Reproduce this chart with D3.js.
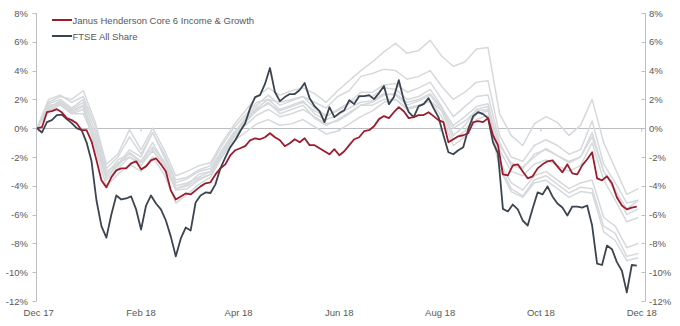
<!DOCTYPE html>
<html>
<head>
<meta charset="utf-8">
<script src="https://cdn.jsdelivr.net/npm/d3@7"></script>
<style>
  html, body { margin: 0; padding: 0; background: #fff; }
  svg { display: block; font-family: "Liberation Sans", Arial, sans-serif; }
</style>
</head>
<body>
<svg id="chart" width="680" height="326"></svg>
<script>
// Cumulative returns (%), 30 Nov 2017 - 30 Nov 2018
const startDate = new Date(2017, 10, 30);

// Main series sampled every 3 days
const janus = [
  0, 0.07, 1.11, 1.18, 1.32, 1.11, 0.70, 0.56, 0.35, -0.14,
  -0.14, -0.91, -2.23, -3.62, -4.11, -3.41, -2.93, -2.79, -2.79, -2.44,
  -2.30, -2.86, -2.65, -2.23, -2.09, -2.51, -3.00, -4.32, -4.95, -4.74,
  -4.53, -4.60, -4.32, -4.04, -3.83, -3.76, -3.21, -2.79, -2.51, -1.88,
  -1.53, -1.39, -1.25, -0.84, -0.70, -0.77, -0.63, -0.35, -0.63, -0.84,
  -1.25, -1.05, -0.77, -0.98, -0.70, -1.18, -1.18, -1.39, -1.60, -1.81,
  -1.46, -1.88, -1.60, -1.18, -0.77, -0.63, -0.21, -0.14, 0.14, 0.63,
  0.84, 0.70, 1.11, 1.46, 1.18, 0.70, 0.77, 0.91, 0.91, 1.11,
  0.84, 0.56, 0.42, -0.98, -0.77, -0.56, -0.49, -0.35, 0.42, 0.49,
  0.42, 0.70, -0.49, -1.18, -3.21, -3.28, -2.58, -2.51, -3.00, -3.48,
  -3.34, -2.79, -2.51, -2.30, -2.23, -2.65, -3.07, -2.51, -3.14, -3.21,
  -2.58, -2.16, -1.67, -3.48, -3.62, -3.34, -3.83, -4.81, -5.37, -5.64,
  -5.51, -5.44
];
const ftse = [
  0, -0.3, 0.42, 0.56, 0.91, 0.95, 0.63, 0.35, 0.0, -0.14,
  -0.98, -2.30, -5.02, -6.8, -7.6, -5.99, -4.67, -4.95, -4.88, -4.74,
  -5.64, -7.04, -5.37, -4.67, -5.23, -5.64, -6.41, -7.53, -8.9, -7.67,
  -6.9, -7.11, -5.16, -4.67, -4.46, -4.5, -3.9, -2.79, -2.02, -1.32,
  -0.84, -0.21, 0.35, 1.39, 2.16, 2.3, 3.07, 4.18, 2.51, 1.88,
  2.16, 2.37, 2.37, 2.65, 3.14, 2.09, 1.53, 1.18, 0.42, 1.46,
  0.77, 1.05, 1.25, 1.95, 1.67, 2.23, 2.23, 2.3, 2.02, 2.44,
  2.93, 1.67, 2.16, 3.34, 1.95, 1.11, 0.77, 1.53, 1.67, 2.09,
  1.39, 0.77, -0.49, -1.67, -1.81, -1.53, -1.32, -0.07, 0.84, 1.11,
  0.98, 0.7, -0.98, -1.74, -5.6, -5.78, -5.3, -5.64, -6.41, -6.76,
  -5.57, -4.46, -4.6, -4.04, -4.74, -5.23, -5.51, -6.06, -5.44, -5.44,
  -5.51, -5.37, -6.76, -9.4, -9.5, -8.15, -8.4, -9.3, -9.9, -11.4,
  -9.5, -9.55
];

// Other portfolios in the range, weekly
const peers = [
  [0, 1.8, 2.2, 2.0, 2.6, 0.5, -2.5, -1.8, -0.1, -1.5, 0.0, -1.5, -3.3, -3.0, -2.6, -2.4, -1.0, 0.2, 1.2, 2.2, 2.8, 2.3, 2.6, 2.8, 2.4, 1.8, 2.6, 3.3, 4.0, 4.6, 5.3, 5.9, 5.2, 5.4, 6.1, 5.0, 4.3, 4.6, 5.5, 5.6, 1.0, -0.5, -1.2, 0.3, 0.8, 0.4, -0.5, 0.2, 2.0, -1.0, -2.8, -4.6, -4.2],
  [0, 2.0, 2.3, 1.8, 2.2, 0.2, -2.8, -2.0, -0.6, -1.8, -0.3, -1.8, -3.6, -3.4, -2.9, -2.6, -1.2, 0.0, 0.9, 1.8, 2.0, 1.8, 2.0, 2.2, 1.8, 1.4, 2.2, 2.6, 3.6, 3.8, 4.1, 4.0, 3.4, 3.6, 4.0, 2.9, 2.0, 2.5, 3.2, 3.3, -0.5, -2.0, -2.3, -1.2, -0.8, -1.2, -1.8, -1.5, 0.5, -2.5, -3.8, -5.2, -5.0],
  [0, 1.5, 1.8, 1.2, 1.6, -0.5, -3.2, -2.2, -1.8, -2.3, -1.3, -2.3, -4.0, -3.8, -3.4, -3.0, -1.8, -0.6, 0.2, 0.9, 1.3, 0.8, 1.0, 1.3, 0.8, 0.3, 0.5, 1.0, 1.6, 1.8, 2.3, 2.4, 1.8, 2.0, 2.4, 1.4, 0.2, 0.8, 1.5, 1.7, -1.5, -3.0, -3.3, -2.5, -2.2, -2.6, -3.0, -2.6, -1.0, -3.6, -5.0, -6.5, -6.2],
  [0, 1.7, 2.0, 1.4, 2.0, -0.2, -3.0, -2.5, -1.5, -2.0, -0.3, -2.0, -3.8, -3.5, -3.0, -2.8, -1.5, -0.3, 0.5, 1.3, 1.7, 1.2, 1.5, 1.8, 1.2, 0.8, 1.3, 1.8, 2.5, 2.5, 3.0, 3.1, 2.5, 2.8, 3.2, 2.0, 0.8, 1.5, 2.2, 2.3, -1.0, -2.6, -2.8, -1.8, -1.5, -1.9, -2.3, -2.0, -0.3, -3.0, -4.3, -5.6, -5.0],
  [0, 1.2, 1.6, 1.0, 1.3, -1.0, -3.6, -2.8, -2.0, -2.6, -1.5, -2.6, -4.3, -4.2, -3.6, -3.2, -1.8, -0.5, 0.6, 1.4, 2.0, 1.3, 1.6, 1.9, 1.0, 0.6, 0.9, 1.4, 1.8, 1.9, 2.4, 2.3, 1.6, 1.9, 2.3, 1.2, -0.8, -0.2, 1.0, 1.2, -2.3, -3.8, -4.3, -3.3, -3.0, -3.6, -4.2, -3.8, -3.6, -6.2, -6.8, -8.3, -8.0],
  [0, 1.4, 1.9, 1.3, 1.8, -0.8, -3.4, -2.6, -1.7, -2.3, -1.0, -2.4, -4.2, -3.9, -3.2, -3.0, -1.6, -0.4, 0.7, 1.6, 2.3, 1.6, 1.9, 2.2, 1.4, 0.9, 1.2, 1.7, 2.2, 2.2, 2.8, 2.7, 2.0, 2.2, 2.7, 1.5, -0.5, 0.2, 1.3, 1.5, -2.5, -4.2, -4.7, -3.6, -3.3, -3.9, -4.5, -4.1, -4.2, -6.8, -7.3, -8.9, -8.7],
  [0, 1.3, 1.7, 1.1, 1.5, -1.3, -4.0, -3.2, -2.5, -3.0, -2.0, -3.2, -5.2, -4.6, -3.9, -3.4, -2.0, -0.7, 0.4, 1.2, 1.8, 1.0, 1.3, 1.6, 0.7, 0.2, 0.6, 1.1, 1.6, 1.6, 2.0, 2.0, 1.3, 1.5, 1.9, 0.8, -1.2, -0.6, 0.6, 0.9, -2.8, -4.4, -4.8, -3.8, -3.6, -4.2, -4.8, -4.4, -4.5, -7.2, -7.8, -9.2, -9.0],
  [0, 1.6, 1.7, 1.0, 1.0, -0.8, -3.4, -2.4, -2.0, -2.4, -1.6, -2.4, -4.2, -4.0, -3.5, -3.2, -2.0, -0.9, -0.3, 0.3, 0.6, 0.2, 0.3, 0.6, 0.1, -0.4, -0.2, 0.3, 0.8, 1.2, 1.8, 2.0, 1.4, 1.6, 1.9, 1.2, 0.0, 0.5, 1.2, 1.3, -1.2, -2.4, -2.7, -2.0, -1.4, -1.9, -2.4, -2.0, -0.6, -3.0, -4.4, -6.0, -5.6]
];

const yTicks = [8, 6, 4, 2, 0, -2, -4, -6, -8, -10, -12];
const xTickDates = [
  new Date(2017, 11, 1), new Date(2018, 1, 1), new Date(2018, 3, 1),
  new Date(2018, 5, 1), new Date(2018, 7, 1), new Date(2018, 9, 1),
  new Date(2018, 11, 1)
];
const seriesNames = ["Janus Henderson Core 6 Income & Growth", "FTSE All Share"];
const colors = { janus: "#9c1c2e", ftse: "#3b4550", peer: "#d6d9dc", axis: "#bcbfc2", text: "#595959" };

const dates3 = d3.range(janus.length).map(i => d3.timeDay.offset(startDate, 3 * i));
const dates7 = d3.range(peers[0].length).map(i => d3.timeDay.offset(startDate, 7 * i));

const svg = d3.select("#chart");
const axisLeft = 36.5, axisRight = 645.5, plotTop = 13, plotBottom = 301;

const x = d3.scaleTime()
  .domain([startDate, new Date(2018, 11, 3)])
  .range([37, 645]);
const y = d3.scaleLinear().domain([-12, 8]).range([plotBottom, plotTop]);

const fmtPct = d => d + "%";

// Left axis
const gl = svg.append("g");
gl.append("line").attr("x1", axisLeft).attr("x2", axisLeft).attr("y1", plotTop).attr("y2", plotBottom)
  .attr("stroke", colors.axis);
gl.selectAll("line.t").data(yTicks).join("line").attr("class", "t")
  .attr("x1", axisLeft - 4).attr("x2", axisLeft)
  .attr("y1", d => Math.round(y(d)) + 0.5).attr("y2", d => Math.round(y(d)) + 0.5)
  .attr("stroke", colors.axis);
gl.selectAll("text").data(yTicks).join("text")
  .attr("x", 28).attr("y", d => y(d) + 3.5)
  .attr("text-anchor", "end").attr("font-size", 9.5).attr("fill", colors.text)
  .text(fmtPct);

// Right axis
const gr = svg.append("g");
gr.append("line").attr("x1", axisRight).attr("x2", axisRight).attr("y1", plotTop).attr("y2", plotBottom)
  .attr("stroke", colors.axis);
gr.selectAll("line.t").data(yTicks).join("line").attr("class", "t")
  .attr("x1", axisRight - 4).attr("x2", axisRight)
  .attr("y1", d => Math.round(y(d)) + 0.5).attr("y2", d => Math.round(y(d)) + 0.5)
  .attr("stroke", colors.axis);
gr.selectAll("text").data(yTicks).join("text")
  .attr("x", 649).attr("y", d => y(d) + 3.5)
  .attr("text-anchor", "start").attr("font-size", 9.5).attr("fill", colors.text)
  .text(fmtPct);

// Zero line with date ticks
const y0 = Math.round(y(0)) + 0.5;
svg.append("line").attr("x1", axisLeft).attr("x2", axisRight).attr("y1", y0).attr("y2", y0)
  .attr("stroke", colors.axis);
svg.append("g").selectAll("line").data(xTickDates).join("line")
  .attr("x1", d => x(d)).attr("x2", d => x(d)).attr("y1", y0).attr("y2", y0 + 3)
  .attr("stroke", colors.axis);

// Date labels along the bottom
const fmtDate = d3.timeFormat("%b %y");
svg.append("g").selectAll("text").data(xTickDates).join("text")
  .attr("x", d => x(d)).attr("y", 316)
  .attr("text-anchor", "middle").attr("font-size", 9.5).attr("fill", colors.text)
  .text(fmtDate);

// Lines
const line = (dates) => d3.line().x((d, i) => x(dates[i])).y(d => y(d));
const plot = svg.append("g").attr("fill", "none").attr("stroke-linejoin", "round");
plot.selectAll("path.peer").data(peers).join("path").attr("class", "peer")
  .attr("d", line(dates7)).attr("stroke", colors.peer).attr("stroke-width", 1.5);
plot.append("path").datum(ftse).attr("d", line(dates3))
  .attr("stroke", colors.ftse).attr("stroke-width", 1.8);
plot.append("path").datum(janus).attr("d", line(dates3))
  .attr("stroke", colors.janus).attr("stroke-width", 1.8);

// Legend
const legend = svg.append("g");
const legendItems = [
  { name: seriesNames[0], color: colors.janus },
  { name: seriesNames[1], color: colors.ftse }
];
legendItems.forEach((it, i) => {
  const ly = 20 + i * 16;
  legend.append("line").attr("x1", 52).attr("x2", 72).attr("y1", ly).attr("y2", ly)
    .attr("stroke", it.color).attr("stroke-width", 2);
  legend.append("text").attr("x", 72.5).attr("y", ly + 3.5)
    .attr("font-size", 9.5).attr("fill", colors.text).text(it.name);
});
</script>
</body>
</html>
